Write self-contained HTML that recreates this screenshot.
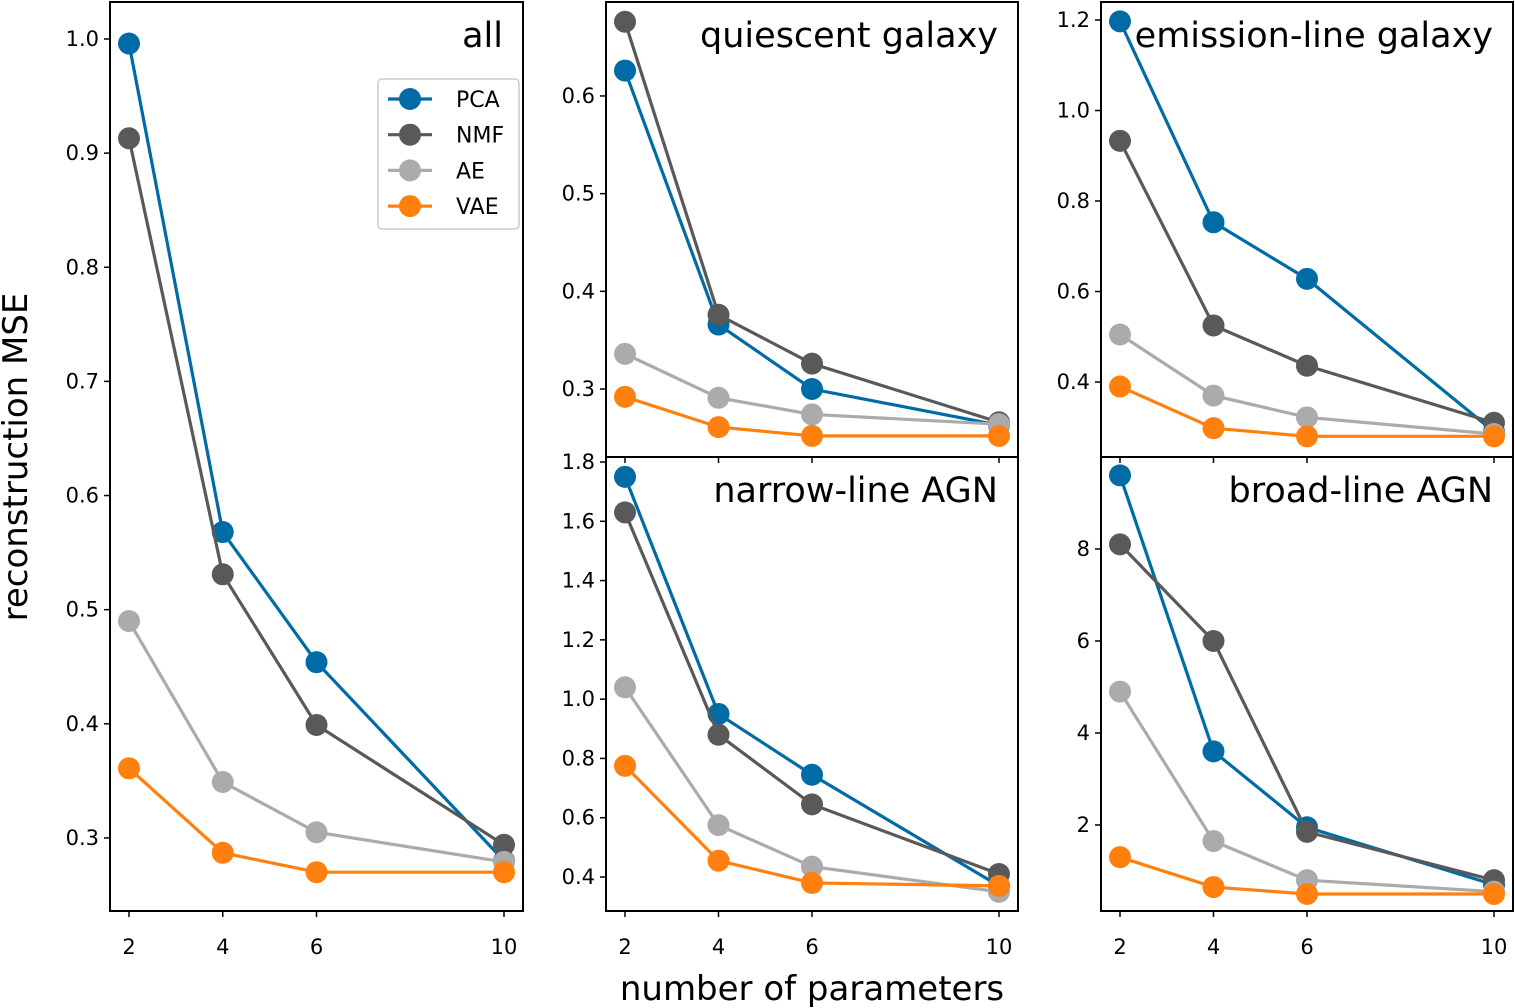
<!DOCTYPE html>
<html><head><meta charset="utf-8">
<style>
html,body{margin:0;padding:0;background:#fff;}
svg{display:block;font-family:"DejaVu Sans","Liberation Sans",sans-serif;}
</style></head>
<body>
<svg id="chart" width="1515" height="1008" viewBox="0 0 1515 1008" xmlns="http://www.w3.org/2000/svg"></svg>
<script>
const xParams = [2, 4, 6, 10];
const seriesNames = ["PCA", "NMF", "AE", "VAE"];
const allPCA = [0.996, 0.568, 0.454, 0.280];
const allNMF = [0.913, 0.531, 0.399, 0.294];
const allAE = [0.490, 0.349, 0.305, 0.279];
const allVAE = [0.361, 0.287, 0.270, 0.270];
const qPCA = [0.626, 0.366, 0.300, 0.263];
const qNMF = [0.676, 0.376, 0.326, 0.266];
const qAE = [0.336, 0.291, 0.274, 0.264];
const qVAE = [0.292, 0.261, 0.252, 0.252];
const ePCA = [1.197, 0.753, 0.628, 0.290];
const eNMF = [0.933, 0.525, 0.436, 0.310];
const eAE = [0.505, 0.370, 0.322, 0.285];
const eVAE = [0.390, 0.298, 0.280, 0.280];
const nPCA = [1.75, 0.95, 0.745, 0.37];
const nNMF = [1.63, 0.88, 0.645, 0.41];
const nAE = [1.04, 0.575, 0.435, 0.35];
const nVAE = [0.775, 0.455, 0.38, 0.37];
const bPCA = [9.6, 3.6, 1.95, 0.7];
const bNMF = [8.1, 6.0, 1.85, 0.8];
const bAE = [4.9, 1.65, 0.8, 0.55];
const bVAE = [1.3, 0.65, 0.5, 0.5];
const allTicks = ["0.3","0.4","0.5","0.6","0.7","0.8","0.9","1.0"];
const qTicks = ["0.3","0.4","0.5","0.6"];
const eTicks = ["0.4","0.6","0.8","1.0","1.2"];
const nTicks = ["0.4","0.6","0.8","1.0","1.2","1.4","1.6","1.8"];
const bTicks = ["2","4","6","8"];
const xTickLabels = ["2","4","6","10"];

const colors = {PCA:"#006BA4", NMF:"#595959", AE:"#ABABAB", VAE:"#FF800E"};
const NS = "http://www.w3.org/2000/svg";
const svg = document.getElementById("chart");
function mk(tag, attrs, parent){
  const e = document.createElementNS(NS, tag);
  for (const k in attrs) e.setAttribute(k, attrs[k]);
  (parent||svg).appendChild(e);
  return e;
}

const panels = [
  {key:"all", title:"all", x0:110, x1:523, y0:2, y1:911, ymin:0.2360, ymax:1.0324, ticks:allTicks, data:[allPCA,allNMF,allAE,allVAE], xticks:true},
  {key:"quiescent", title:"quiescent galaxy", x0:606, x1:1018, y0:2, y1:457, ymin:0.2304, ymax:0.6962, ticks:qTicks, data:[qPCA,qNMF,qAE,qVAE], xticks:false},
  {key:"narrow", title:"narrow-line AGN", x0:606, x1:1018, y0:457, y1:911, ymin:0.2853, ymax:1.8169, ticks:nTicks, data:[nPCA,nNMF,nAE,nVAE], xticks:true},
  {key:"emission", title:"emission-line galaxy", x0:1101, x1:1513, y0:2, y1:457, ymin:0.2343, ymax:1.2398, ticks:eTicks, data:[ePCA,eNMF,eAE,eVAE], xticks:false},
  {key:"broad", title:"broad-line AGN", x0:1101, x1:1513, y0:457, y1:911, ymin:0.13, ymax:10.0, ticks:bTicks, data:[bPCA,bNMF,bAE,bVAE], xticks:true}
];

panels.forEach(p => {
  const g = mk("g", {});
  
  
  const w = p.x1 - p.x0;
  const xs = v => p.x0 + 19 + (v - 2) / 8 * (w - 38);
  const ys = v => p.y1 - (v - p.ymin) / (p.ymax - p.ymin) * (p.y1 - p.y0);
  p.ticks.forEach(t => {
    const y = ys(parseFloat(t));
    const tl = mk("line", {x1:p.x0-6, x2:p.x0, y1:y, y2:y, stroke:"#000", "stroke-width":1.5}, g);
    
    
    const tx = mk("text", {x:p.x0-11, y:y+7, "text-anchor":"end", "font-size":"21"}, g);
    
    
    tx.textContent = t;
  });
  xParams.forEach((v, i) => {
    const x = xs(v);
    const tl = mk("line", {x1:x, x2:x, y1:p.y1, y2:p.y1+6, stroke:"#000", "stroke-width":1.5}, g);
    
    
    if (p.xticks) {
      const tx = mk("text", {x:x, y:p.y1+43, "text-anchor":"middle", "font-size":"21"}, g);
      
      
      tx.textContent = xTickLabels[i];
    }
  });
  const cp = "clip-" + p.key;
  const cpe = mk("clipPath", {id:cp}, g);
  mk("rect", {x:p.x0, y:p.y0, width:w, height:p.y1-p.y0}, cpe);
  const dg = mk("g", {"clip-path":"url(#"+cp+")"}, g);
  p.data.forEach((arr, si) => {
    const name = seriesNames[si];
    const pts = arr.map((v, i) => xs(xParams[i]) + "," + ys(v)).join(" ");
    const pl = mk("polyline", {points:pts, fill:"none", stroke:colors[name], "stroke-width":3.2}, dg);
    
    
    arr.forEach((v, i) => {
      const c = mk("circle", {cx:xs(xParams[i]), cy:ys(v), r:11, fill:colors[name]}, dg);
      
      
    });
  });
  const fr = mk("rect", {x:p.x0, y:p.y0, width:w, height:p.y1-p.y0, fill:"none", stroke:"#000", "stroke-width":2}, g);
  
  
  const tt = mk("text", {x:p.x1-20, y:p.y0+45, "text-anchor":"end", "font-size":"35"}, g);
  
  
  tt.textContent = p.title;
});

const lg = mk("g", {});


mk("rect", {x:378, y:79, width:141, height:150, rx:4, fill:"#fff", "fill-opacity":0.85, stroke:"#ccc", "stroke-width":1.5}, lg);
seriesNames.forEach((n, i) => {
  const y = 99 + i * 35.7;
  const eg = mk("g", {}, lg);
  
  
  mk("line", {x1:388, x2:432, y1:y, y2:y, stroke:colors[n], "stroke-width":3.2}, eg);
  mk("circle", {cx:410, cy:y, r:11, fill:colors[n]}, eg);
  const t = mk("text", {x:456, y:y+8, "font-size":"22"}, eg);
  t.textContent = n;
});

const yl = mk("text", {x:0, y:0, transform:"translate(27,457) rotate(-90)", "text-anchor":"middle", "font-size":"34"});


yl.textContent = "reconstruction MSE";
const xl = mk("text", {x:812, y:1000, "text-anchor":"middle", "font-size":"34"});


xl.textContent = "number of parameters";
</script>
</body></html>
